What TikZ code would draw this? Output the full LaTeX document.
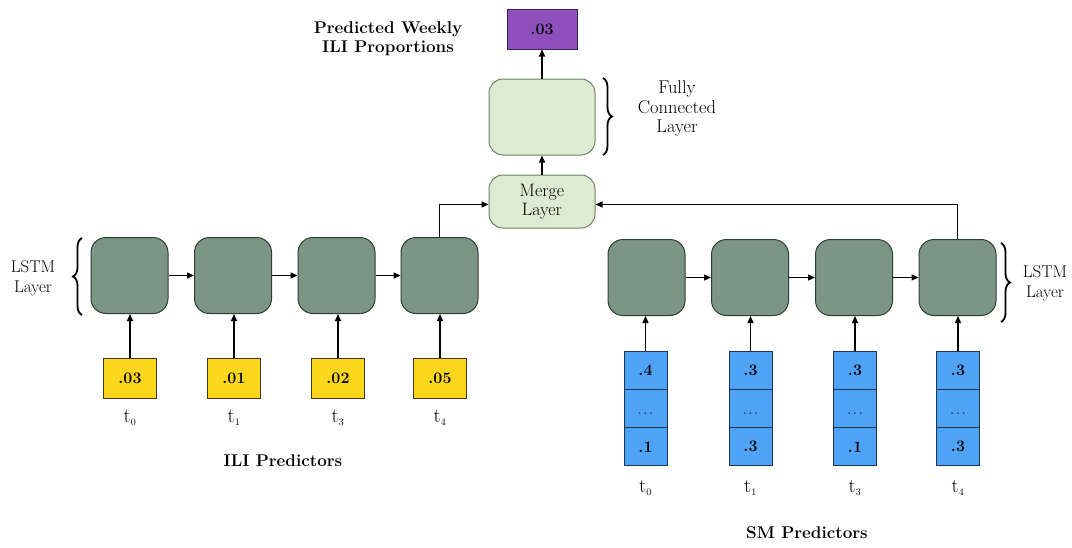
\documentclass[tikz,border=0pt]{standalone}
\usetikzlibrary{arrows.meta,decorations.pathreplacing}
\definecolor{lstmfill}{HTML}{7B9684}
\definecolor{lstmdraw}{HTML}{2E3D33}
\definecolor{fcfill}{HTML}{DCEBD2}
\definecolor{fcdraw}{HTML}{6E8162}
\definecolor{purp}{HTML}{8F50BE}
\definecolor{purpdraw}{HTML}{3A2452}
\definecolor{yel}{HTML}{FCD61D}
\definecolor{yeldraw}{HTML}{3C3A2A}
\definecolor{blu}{HTML}{4FA3F7}
\definecolor{bludraw}{HTML}{1E3556}
\begin{document}
\begin{tikzpicture}[x=1pt,y=-1pt,
  lstm/.style={draw=lstmdraw,fill=lstmfill,line width=1pt,rounded corners=15pt,minimum width=77pt,minimum height=76pt,inner sep=0pt},
  fc/.style={draw=fcdraw,fill=fcfill,line width=1pt,rounded corners=14pt,minimum width=106pt,inner sep=0pt,align=center,font=\fontsize{18}{19.5}\selectfont},
  ybox/.style={draw=yeldraw,fill=yel,line width=1pt,minimum width=53pt,minimum height=40pt,inner sep=0pt,font=\fontsize{16}{18}\selectfont\bfseries},
  bcell/.style={draw=bludraw,fill=blu,line width=1pt,minimum width=43pt,minimum height=38.3pt,inner sep=0pt,font=\fontsize{16}{18}\selectfont\bfseries},
  arr/.style={line width=1.3pt,-{Triangle[length=7pt,width=6pt]}},
  brc/.style={decorate,decoration={brace,amplitude=9pt},line width=1.8pt},
  lbl/.style={align=center,font=\fontsize{18.5}{19.5}\selectfont,inner sep=0pt},
  blbl/.style={align=center,font=\fontsize{17}{19.5}\selectfont\bfseries,inner sep=0pt},
  tl/.style={font=\fontsize{20}{22}\selectfont,inner sep=0pt}]
\useasboundingbox (0,0) rectangle (1072,547);
\fill[white] (0,0) rectangle (1072,547);
% top
\node[draw=purpdraw,fill=purp,line width=1pt,minimum width=70pt,minimum height=40pt,inner sep=0pt,font=\fontsize{16}{18}\selectfont\bfseries] (out) at (542,29) {.03};
\node[blbl] (predlbl) at (388,38.5) {Predicted Weekly\\ILI Proportions};
\node[fc,minimum height=76pt] (fcl) at (542,117) {};
\node[fc,minimum height=53pt] (merge) at (542,201.5) {Merge\\Layer};
\draw[brc] (603,78) -- (603,155);
\node[lbl] (fclbl) at (677,108.5) {Fully\\Connected\\Layer};
\draw[arr] (fcl.north) -- (out.south);
\draw[arr] (merge.north) -- (fcl.south);
% left LSTM
\foreach \i/\x in {1/129.5,2/233,3/336.5,4/439.5}{
  \node[lstm] (l\i) at (\x,275.5) {};
}
\foreach \i/\x/\v/\t in {1/130/.03/0,2/234/.01/1,3/338/.02/3,4/440/.05/4}{
  \node[ybox] (y\i) at (\x,378) {\v};
  \node[tl] (ty\i) at (\x,418) {t$_{\scriptscriptstyle\mathrm{\t}}$};
  \draw[arr] (y\i.north) -- (y\i.north|-l\i.south);
}
\draw[arr] (l1) -- (l2);
\draw[arr] (l2) -- (l3);
\draw[arr] (l3) -- (l4);
\draw[brc] (82,315) -- (82,238);
\node[lbl,font=\fontsize{17}{19.5}\selectfont] (lstmL) at (33,278.5) {LSTM\\Layer};
\node[blbl] (ili) at (283,461) {ILI Predictors};
% right LSTM
\foreach \i/\x in {1/646.5,2/750,3/854,4/957.5}{
  \node[lstm] (r\i) at (\x,277.5) {};
}
\foreach \i/\x/\a/\b/\t in {1/645.5/.4/.1/0,2/750.5/.3/.3/1,3/855/.3/.1/3,4/958/.3/.3/4}{
  \node[bcell] (sa\i) at (\x,370.5) {\a};
  \node[bcell] (sb\i) at (\x,408.5) {};
  \node[font=\fontsize{12}{12}\selectfont\bfseries,text=bludraw,inner sep=0pt] (sd\i) at (\x,414) {.\,.\,.};
  \node[bcell] (sc\i) at (\x,446.8) {\b};
  \node[tl] (ts\i) at (\x,488) {t$_{\scriptscriptstyle\mathrm{\t}}$};
  \draw[arr] (sa\i.north) -- (sa\i.north|-r\i.south);
}
\draw[arr] (r1) -- (r2);
\draw[arr] (r2) -- (r3);
\draw[arr] (r3) -- (r4);
\draw[brc] (1001,243) -- (1001,322);
\node[lbl,font=\fontsize{17}{19.5}\selectfont] (lstmR) at (1045,283.5) {LSTM\\Layer};
\node[blbl] (sm) at (807,533) {SM Predictors};
% merge connections
\draw[arr] (l4.north) |- ([yshift=-3pt]merge.west);
\draw[arr] (r4.north) |- ([yshift=-3pt]merge.east);
\end{tikzpicture}
\end{document}
